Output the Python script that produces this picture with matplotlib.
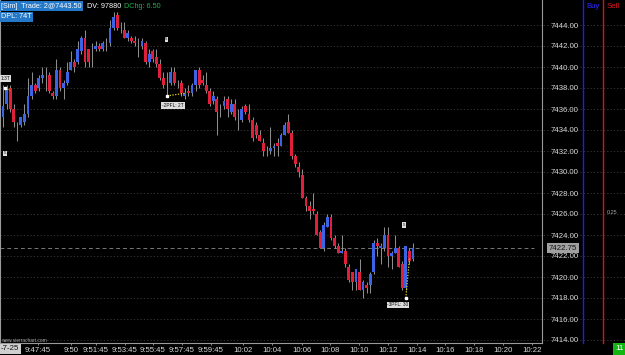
import numpy as np
import matplotlib.pyplot as plt
from matplotlib.lines import Line2D

plt.rcParams['font.family'] = ['Liberation Sans', 'DejaVu Sans']

# candle data (one bar per entry)
opens = [7435.25, 7436.5, 7438.0, 7436.0, 7434.0, 7434.5, 7434.75, 7435.5, 7437.25, 7438.25,
         7438.0, 7439.0, 7439.25, 7439.25, 7437.5, 7437.25, 7439.75, 7438.0, 7438.5, 7439.75,
         7440.5, 7440.5, 7441.5, 7442.75, 7441.75, 7441.0, 7441.75, 7442.0, 7441.75, 7442.0,
         7442.25, 7443.75, 7445.0, 7443.75, 7443.5, 7442.75, 7442.75, 7442.5, 7442.0, 7442.0,
         7442.25, 7440.5, 7441.5, 7441.0, 7440.25, 7439.0, 7438.0, 7438.5, 7439.5, 7438.25,
         7438.5, 7437.25, 7437.75, 7437.5, 7438.25, 7439.75, 7438.75, 7438.25, 7437.75, 7436.75,
         7437.0, 7436.0, 7436.25, 7437.0, 7435.75, 7436.5, 7435.5, 7435.0, 7436.25, 7435.5,
         7435.0, 7434.5, 7433.5, 7432.75, 7432.0, 7432.0, 7432.25, 7432.75, 7432.5, 7433.5,
         7434.75, 7433.75, 7431.5, 7430.5, 7429.75, 7427.5, 7426.75, 7426.5, 7426.0, 7424.25,
         7422.75, 7424.75, 7425.75, 7423.75, 7423.0, 7422.25, 7422.5, 7421.0, 7420.5, 7419.5,
         7420.5, 7418.75, 7419.25, 7419.25, 7420.5, 7423.25, 7422.75, 7422.75, 7424.0, 7422.0,
         7422.25, 7422.75, 7421.25, 7419.0, 7422.5, 7421.75]
highs = [7438.25, 7438.25, 7438.25, 7436.5, 7434.75, 7435.25, 7436.5, 7439.0, 7439.5, 7438.5,
         7439.25, 7440.0, 7440.0, 7439.5, 7437.75, 7440.75, 7440.0, 7438.75, 7440.5, 7441.5,
         7440.75, 7442.5, 7443.0, 7443.5, 7441.75, 7442.25, 7442.5, 7442.25, 7442.5, 7442.75,
         7444.5, 7445.25, 7445.25, 7444.25, 7444.25, 7443.5, 7443.0, 7443.0, 7442.75, 7442.75,
         7442.5, 7441.75, 7441.75, 7441.75, 7440.75, 7439.5, 7439.5, 7440.0, 7440.0, 7438.75,
         7438.75, 7438.0, 7438.25, 7438.5, 7439.75, 7440.0, 7439.25, 7439.5, 7438.0, 7437.75,
         7437.25, 7436.5, 7437.25, 7437.25, 7437.0, 7437.0, 7436.0, 7436.25, 7436.5, 7436.5,
         7435.25, 7434.75, 7434.0, 7433.25, 7432.5, 7434.25, 7432.75, 7433.25, 7433.75, 7434.75,
         7435.5, 7434.0, 7431.75, 7431.0, 7430.25, 7427.75, 7427.25, 7428.0, 7426.25, 7424.5,
         7425.25, 7426.0, 7426.0, 7424.0, 7423.25, 7424.0, 7422.75, 7421.25, 7420.5, 7420.75,
         7421.75, 7419.75, 7419.5, 7420.5, 7423.5, 7423.75, 7423.25, 7424.75, 7424.75, 7422.5,
         7424.0, 7423.0, 7421.5, 7423.0, 7422.75, 7423.25]
lows = [7434.25, 7436.0, 7435.75, 7434.25, 7433.0, 7434.25, 7434.5, 7435.25, 7437.0, 7437.5,
        7437.75, 7438.5, 7437.75, 7437.5, 7437.0, 7437.0, 7437.75, 7437.0, 7438.25, 7439.75,
        7439.5, 7440.25, 7441.25, 7440.0, 7440.0, 7440.0, 7441.5, 7441.5, 7441.5, 7441.5,
        7442.0, 7443.5, 7443.5, 7443.25, 7442.75, 7442.5, 7442.25, 7442.0, 7441.0, 7441.75,
        7440.25, 7440.0, 7440.5, 7440.0, 7438.75, 7438.0, 7437.25, 7438.25, 7438.25, 7438.0,
        7437.25, 7437.0, 7437.25, 7437.25, 7437.75, 7438.0, 7438.25, 7437.5, 7436.25, 7436.5,
        7433.5, 7435.25, 7436.0, 7435.25, 7435.5, 7435.0, 7434.0, 7434.75, 7435.5, 7434.75,
        7433.0, 7433.25, 7433.0, 7431.5, 7431.5, 7431.75, 7431.5, 7431.5, 7432.5, 7433.5,
        7433.75, 7431.25, 7430.5, 7429.5, 7427.5, 7426.25, 7425.5, 7426.0, 7424.0, 7422.75,
        7422.5, 7424.75, 7423.5, 7422.75, 7422.25, 7422.25, 7421.0, 7419.5, 7418.75, 7418.75,
        7418.75, 7418.0, 7418.5, 7418.5, 7420.25, 7422.0, 7421.25, 7422.5, 7421.0, 7420.75,
        7422.25, 7421.0, 7418.75, 7418.75, 7421.25, 7421.5]
closes = [7436.25, 7438.0, 7436.0, 7434.75, 7434.0, 7435.25, 7435.5, 7437.25, 7438.25, 7437.75,
          7439.0, 7439.25, 7439.25, 7437.75, 7437.25, 7439.75, 7438.0, 7438.5, 7439.5, 7440.5,
          7440.0, 7441.75, 7442.75, 7440.5, 7440.5, 7441.0, 7442.0, 7441.75, 7442.25, 7442.0,
          7443.75, 7444.75, 7443.75, 7443.75, 7442.75, 7443.25, 7442.5, 7442.25, 7442.0, 7442.5,
          7440.5, 7441.25, 7440.75, 7440.25, 7439.0, 7438.25, 7438.0, 7439.5, 7438.5, 7438.25,
          7437.5, 7437.5, 7437.5, 7438.25, 7439.75, 7438.25, 7438.5, 7437.75, 7436.5, 7437.25,
          7435.75, 7436.0, 7436.75, 7436.0, 7436.5, 7435.25, 7435.5, 7436.0, 7435.75, 7435.0,
          7433.25, 7433.5, 7433.0, 7432.0, 7432.0, 7432.25, 7432.5, 7432.5, 7433.5, 7434.5,
          7433.75, 7431.5, 7430.75, 7430.0, 7427.5, 7426.75, 7426.25, 7426.25, 7424.0, 7422.75,
          7425.0, 7425.75, 7423.75, 7423.0, 7422.25, 7422.5, 7421.25, 7419.75, 7419.5, 7420.75,
          7418.75, 7419.5, 7419.0, 7420.25, 7423.25, 7423.0, 7423.0, 7424.0, 7422.0, 7422.25,
          7422.75, 7421.0, 7419.0, 7423.0, 7421.5, 7422.75]

price_levels = np.arange(7414, 7446, 2)
last_price = 7422.75
time_labels = ['9:47:45', '9:50', '9:51:45', '9:53:45', '9:55:45', '9:57:45', '9:59:45',
               '10:02', '10:04', '10:06', '10:08', '10:10', '10:12', '10:14', '10:16',
               '10:18', '10:20', '10:22']
tick_px = [38, 71, 96, 125, 153, 182, 211, 243, 272, 302, 330, 359, 388, 417, 445, 474, 503, 532]

# trade marker lines (bar index, price)
trade_lines = [([0.5, 2], [7438.0, 7437.75]),
               ([46, 51], [7437.25, 7437.5]),
               ([113, 114], [7418.0, 7421.75])]
# trade labels (bar index, price, text)
trade_labels = [(47.7, 7436.35, '-2PFL: 2T'), (110.8, 7417.35, '-3PFL: 30'), (0.75, 7438.9, '1:3T')]
small_marks = [(0.6, 7431.8), (45.8, 7442.65), (112.5, 7424.95)]

W, H = 625, 355
BAR_PX, FIRST_PX = 3.565, 3.0
BG = '#000000'
UP, DOWN, WICK = '#3b63e6', '#e0203a', '#8c8c8c'

fig = plt.figure(figsize=(W / 100, H / 100), dpi=100, facecolor=BG)
ax = fig.add_axes([0, 12 / H, 542 / W, 343 / H], facecolor=BG)

x = np.arange(len(opens))
o, h, l, c = map(np.array, (opens, highs, lows, closes))
ax.vlines(x, l, h, color=WICK, lw=0.75, zorder=2)
up = c > o
dn = c < o
ax.bar(x[up], (c - o)[up], bottom=o[up], width=0.8, color=UP, lw=0, zorder=3)
ax.bar(x[dn], (o - c)[dn], bottom=c[dn], width=0.8, color=DOWN, lw=0, zorder=3)

ax.set_xlim(-FIRST_PX / BAR_PX, (542 - FIRST_PX) / BAR_PX)
ax.set_ylim(7444 - (343 - 25) / 10.5, 7444 + 25 / 10.5)

# dotted grid across full width
for lv in price_levels:
    ax.plot([0, W / 542], [lv, lv], transform=ax.get_yaxis_transform(), clip_on=False,
            color='#3c3c3c', lw=0.6, ls=(0, (1.5, 2.5)), zorder=1)

ax.axhline(last_price, xmax=0.985, color='#777777', lw=0.7, ls=(0, (4, 3)), zorder=1)

# trade markers
for xs, ys in trade_lines:
    ax.plot(xs, ys, color='#e8d800', lw=0.9, ls=(0, (1, 1.2)), zorder=4)
    ax.plot(xs[0], ys[0], 's', ms=1.5, color='white', zorder=5)
for xi, yi, txt in trade_labels:
    ax.text(xi, yi, txt, fontsize=3.5, color='#111111', ha='center', va='center',
            bbox=dict(boxstyle='square,pad=0.15', fc='#dddddd', ec='none'), zorder=6, clip_on=False)
for xi, yi in small_marks:
    ax.text(xi, yi, '5', fontsize=3.2, color='#111111', ha='center', va='center',
            bbox=dict(boxstyle='square,pad=0.12', fc='#dddddd', ec='none'), zorder=6)

# axes styling
ax.spines['top'].set_visible(False)
for s in ['left', 'right', 'bottom']:
    ax.spines[s].set_color('#9a9a9a')
    ax.spines[s].set_linewidth(0.8)
ax.yaxis.tick_right()
ax.set_yticks(price_levels)
ax.set_yticklabels([f'{v:.2f}' for v in price_levels])
ax.tick_params(axis='y', length=0, pad=6, labelsize=5.6, labelcolor='#d8d8d8')
ax.set_xticks([(p - FIRST_PX) / BAR_PX for p in tick_px])
ax.set_xticklabels(time_labels)
ax.tick_params(axis='x', length=1.5, width=0.5, color='#bbbbbb', pad=1.5,
               labelsize=5.6, labelcolor='#d8d8d8')

ax.text(1.013, last_price, f'{last_price:.2f}', transform=ax.get_yaxis_transform(),
        fontsize=5.6, color='#111111', va='center', ha='left',
        bbox=dict(boxstyle='square,pad=0.2', fc='#a0a0a0', ec='none'), zorder=7, clip_on=False)

# header texts
fig.text(1 / W, 1 - 6 / H, '[Sim]  Trade: 2@7443.50', fontsize=5.2, color='white',
         va='center', ha='left', bbox=dict(boxstyle='square,pad=0.25', fc='#2478c8', ec='none'))
fig.text(87 / W, 1 - 6 / H, 'DV: 97880', fontsize=5.2, color='white', va='center', ha='left')
fig.text(124 / W, 1 - 6 / H, 'DChg: 6.50', fontsize=5.2, color='#1fae4a', va='center', ha='left')
fig.text(1 / W, 1 - 17 / H, 'DPL: 74T', fontsize=5.2, color='white', va='center', ha='left',
         bbox=dict(boxstyle='square,pad=0.25', fc='#2478c8', ec='none'))

# buy / sell columns
fig.add_artist(Line2D([583 / W] * 2, [12 / H, 1], color='#1c1cff', lw=1.0))
fig.add_artist(Line2D([603 / W] * 2, [12 / H, 1], color='#e01010', lw=1.0))
fig.text(593 / W, 1 - 7 / H, 'Buy', fontsize=5.6, color='#2a2aff', ha='center', va='center')
fig.text(613 / W, 1 - 7 / H, 'Sell', fontsize=5.6, color='#e01818', ha='center', va='center')
fig.text(612 / W, 1 - 213 / H, '0.25', fontsize=4, color='#aaaaaa', ha='center', va='center')

fig.text(620 / W, 6 / H, '11', fontsize=5.8, color='white', ha='center', va='center',
         bbox=dict(boxstyle='square,pad=0.3', fc='#12b512', ec='none'))
fig.text(1 / W, 6 / H, '-7-25', fontsize=5.6, color='#111111', ha='left', va='center',
         bbox=dict(boxstyle='square,pad=0.2', fc='#cfcfcf', ec='none'))
fig.text(1 / W, 14 / H, 'www.sierrachart.com', fontsize=3.5, color='#aaaaaa',
         ha='left', va='center')

fig.savefig('out.png', dpi=100, facecolor=BG)
